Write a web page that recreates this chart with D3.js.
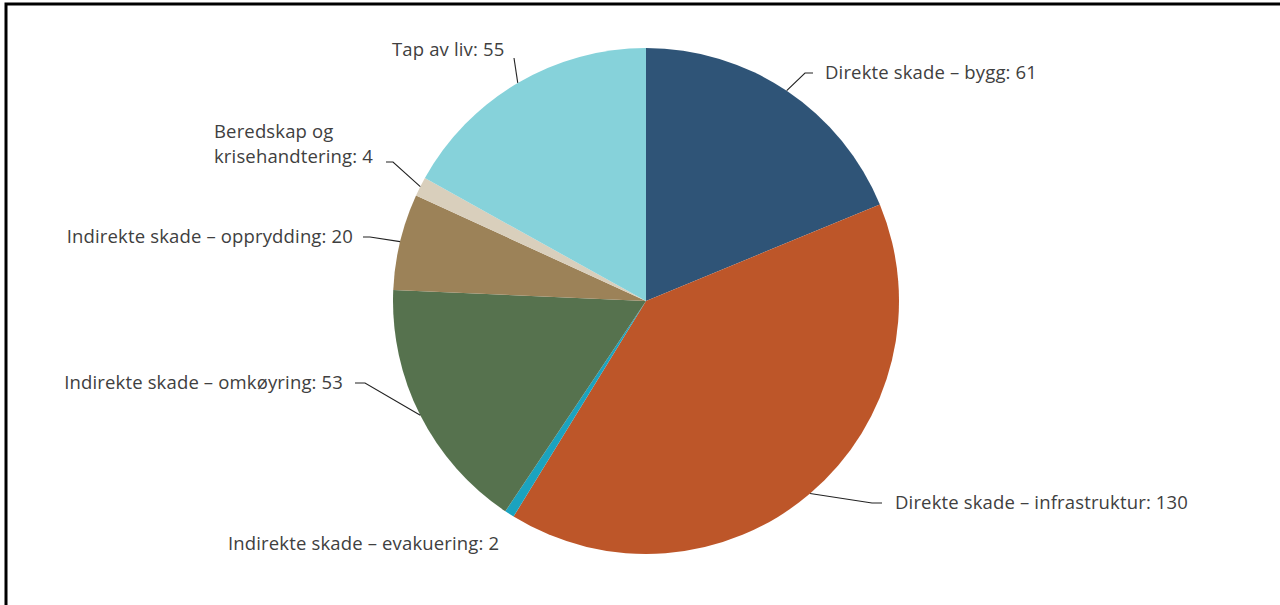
<!DOCTYPE html>
<html>
<head>
<meta charset="utf-8">
<script src="https://cdn.jsdelivr.net/npm/d3@7"></script>
<style>
  html, body { margin: 0; padding: 0; background: #fff; }
  svg { display: block; }
  text { font-family: "Open Sans", sans-serif; font-size: 18.5px; letter-spacing: 0.15px; fill: #404040; }
</style>
</head>
<body>
<svg id="chart" width="1280" height="605"></svg>
<script>
const categories = [
  "Direkte skade – bygg",
  "Direkte skade – infrastruktur",
  "Indirekte skade – evakuering",
  "Indirekte skade – omkøyring",
  "Indirekte skade – opprydding",
  "Beredskap og krisehandtering",
  "Tap av liv"
];
const values = [61, 130, 2, 53, 20, 4, 55];
const colors = ["#2F5477", "#BD5629", "#1BA3BF", "#56724E", "#9C8258", "#D9CFBC", "#86D2DA"];

// label layout (text lines, anchor, position of text, elbow of leader line)
const labelLayout = [
  { lines: ["Direkte skade – bygg: 61"], anchor: "start", x: 825, y: 73, elbow: [805, 73], tail: [813, 73] },
  { lines: ["Direkte skade – infrastruktur: 130"], anchor: "start", x: 895, y: 503, elbow: [872, 503], tail: [882, 503] },
  { lines: ["Indirekte skade – evakuering: 2"], anchor: "start", x: 228, y: 544, elbow: null },
  { lines: ["Indirekte skade – omkøyring: 53"], anchor: "end", x: 343, y: 383, elbow: [365, 383], tail: [355, 383] },
  { lines: ["Indirekte skade – opprydding: 20"], anchor: "end", x: 353, y: 237, elbow: [370, 237], tail: [363, 237] },
  { lines: ["Beredskap og", "krisehandtering: 4"], anchor: "start", x: 214, y: 132, elbow: [393, 162], tail: [386, 162] },
  { lines: ["Tap av liv: 55"], anchor: "start", x: 392, y: 50, elbow: [514, 58], tail: null }
];

const svg = d3.select("#chart");
const cx = 646, cy = 301, R = 253;

// frame
svg.append("path")
  .attr("d", "M6,610 L6,4 L1290,4")
  .attr("fill", "none").attr("stroke", "#000").attr("stroke-width", 3);

const data = categories.map((c, i) => ({ name: c, value: values[i], color: colors[i], layout: labelLayout[i] }));

const pie = d3.pie().value(d => d.value).sort(null);
const arc = d3.arc().innerRadius(0).outerRadius(R);
const arcs = pie(data);

const g = svg.append("g").attr("transform", `translate(${cx},${cy})`);
g.selectAll("path.slice").data(arcs).enter().append("path")
  .attr("class", "slice")
  .attr("d", arc)
  .attr("fill", d => d.data.color);

// leader lines
arcs.forEach(a => {
  const L = a.data.layout;
  if (!L.elbow) return;
  const mid = (a.startAngle + a.endAngle) / 2;
  const p0 = [cx + R * Math.sin(mid), cy - R * Math.cos(mid)];
  const pts = [p0, L.elbow];
  if (L.tail) pts.push(L.tail);
  svg.append("path")
    .attr("d", d3.line()(pts))
    .attr("fill", "none")
    .attr("stroke", "#222")
    .attr("stroke-width", 1.1);
});

// labels
arcs.forEach(a => {
  const L = a.data.layout;
  const t = svg.append("text")
    .attr("text-anchor", L.anchor)
    .attr("x", L.x).attr("y", L.y);
  L.lines.forEach((ln, i) => {
    t.append("tspan").attr("x", L.x).attr("dy", i === 0 ? "0.35em" : "25px").text(ln);
  });
});
</script>
</body>
</html>
